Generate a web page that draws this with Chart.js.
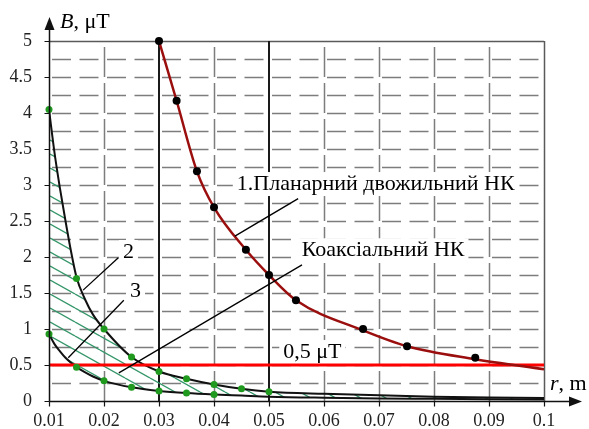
<!DOCTYPE html>
<html>
<head>
<meta charset="utf-8">
<script src="https://cdn.jsdelivr.net/npm/chart.js@4"></script>
<style>
  html, body { margin: 0; padding: 0; background: #fff; }
</style>
</head>
<body>
<canvas id="chart" width="589" height="429"></canvas>
<script>
// Tick labels
const xTickLabels = ['0.01', '0.02', '0.03', '0.04', '0.05', '0.06', '0.07', '0.08', '0.09', '0.1'];
const yTickLabels = ['0', '0.5', '1', '1.5', '2', '2.5', '3', '3.5', '4', '4.5', '5'];

// 1. Planar two-wire line: measured points and fitted curve
const planarR = [0.03, 0.0332, 0.0369, 0.04, 0.0458, 0.05, 0.0549, 0.0671, 0.0751, 0.0875];
const planarB = [5, 4.17, 3.19, 2.69, 2.1, 1.75, 1.4, 1.0, 0.76, 0.6];
const planarLineR = [0.03, 0.0332, 0.0369, 0.04, 0.0458, 0.05, 0.0549, 0.0671, 0.0751, 0.0875, 0.1];
const planarLineB = [5, 4.17, 3.19, 2.69, 2.1, 1.75, 1.4, 0.98, 0.76, 0.58, 0.44];

// Coaxial line: curve 2 (upper) and curve 3 (lower)
const coaxUpperR = [0.01, 0.015, 0.02, 0.025, 0.03, 0.035, 0.04, 0.045, 0.05];
const coaxUpperB = [4.05, 1.7, 1.0, 0.61, 0.41, 0.31, 0.23, 0.17, 0.13];
const coaxLowerR = [0.01, 0.015, 0.02, 0.025, 0.03, 0.035, 0.04];
const coaxLowerB = [0.93, 0.47, 0.28, 0.19, 0.14, 0.11, 0.09];

const curveR = [0.01, 0.011, 0.012, 0.013, 0.014, 0.015, 0.0165, 0.018, 0.02, 0.025, 0.03, 0.035, 0.04, 0.045, 0.05, 0.06, 0.07, 0.08, 0.09, 0.1];
const upperB = [4.05, 3.45, 2.95, 2.5, 2.08, 1.72, 1.42, 1.2, 1.0, 0.61, 0.41, 0.31, 0.23, 0.17, 0.13, 0.1, 0.08, 0.06, 0.05, 0.04];
const lowerB = [0.93, 0.79, 0.69, 0.6, 0.53, 0.47, 0.4, 0.34, 0.28, 0.19, 0.14, 0.11, 0.09, 0.075, 0.06, 0.045, 0.035, 0.03, 0.025, 0.02];

// Limit line
const limitR = [0.01, 0.1];
const limitB = [0.5, 0.5];

// Solid vertical markers
const markR = [0.03, 0.05];

const SERIF = '"Liberation Serif", "Times New Roman", serif';

// annotations (x, baseline y in data units)
const notes = [
  { text: '1.Планарний двожильний НК', x: 0.04415, y: 2.93 },
  { text: 'Коаксіальний НК', x: 0.05595, y: 2.01 },
  { text: '0,5 μT', x: 0.0526, y: 0.597 },
  { text: '2', x: 0.02345, y: 1.986 },
  { text: '3', x: 0.02473, y: 1.444 }
];
const leaders = [
  [0.0438, 2.29, 0.0553, 2.81],
  [0.0227, 0.39, 0.0560, 1.89],
  [0.0162, 1.54, 0.0226, 1.99],
  [0.0135, 0.60, 0.0236, 1.40]
];

const pts = (xs, ys) => xs.map((v, i) => ({ x: v, y: ys[i] }));

function makeHatch() {
  const c = document.createElement('canvas');
  c.width = 25; c.height = 14;
  const g = c.getContext('2d');
  g.strokeStyle = 'rgb(52,150,105)';
  g.lineWidth = 1.3;
  [-1, 0, 1].forEach(k => {
    g.beginPath();
    g.moveTo(0, k * 14);
    g.lineTo(25, k * 14 + 14);
    g.stroke();
  });
  return g.createPattern(c, 'repeat');
}

const near = (a, b) => Math.abs(a - b) < 1e-6;

const decor = {
  id: 'decor',
  beforeDatasetsDraw(chart) {
    const { ctx, chartArea: a, scales: { x, y } } = chart;
    ctx.save();
    ctx.lineWidth = 1.5;
    ctx.strokeStyle = '#7d7d7d';

    // horizontal dashed grid
    ctx.setLineDash([19, 8.5]);
    ctx.lineDashOffset = 24.5;
    for (let v = 0.25; v < 4.9; v += 0.25) {
      const py = Math.round(y.getPixelForValue(v)) + 0.5;
      ctx.beginPath(); ctx.moveTo(a.left, py); ctx.lineTo(a.right, py); ctx.stroke();
    }

    // vertical dashed grid
    ctx.setLineDash([30, 6]);
    ctx.lineDashOffset = 0;
    x.ticks.forEach((t, i) => {
      if (i === 0 || i === x.ticks.length - 1 || markR.some(m => near(m, t.value))) return;
      const px = Math.round(x.getPixelForValue(t.value)) + 0.5;
      ctx.beginPath(); ctx.moveTo(px, a.bottom); ctx.lineTo(px, a.top); ctx.stroke();
    });

    // top and right border
    ctx.setLineDash([]);
    ctx.strokeStyle = '#5a5a5a';
    ctx.beginPath();
    ctx.moveTo(a.left, a.top + 0.5); ctx.lineTo(a.right, a.top + 0.5);
    ctx.moveTo(a.right + 0.5, a.top); ctx.lineTo(a.right + 0.5, a.bottom);
    ctx.stroke();

    // solid black verticals
    ctx.strokeStyle = '#1a1a1a';
    ctx.lineWidth = 2;
    markR.forEach(m => {
      const px = Math.round(x.getPixelForValue(m));
      ctx.beginPath(); ctx.moveTo(px, a.bottom); ctx.lineTo(px, a.top); ctx.stroke();
    });

    // text labels on white boxes
    ctx.font = '22px ' + SERIF;
    ctx.textAlign = 'left';
    ctx.textBaseline = 'alphabetic';
    notes.forEach(n => {
      const px = x.getPixelForValue(n.x);
      const py = y.getPixelForValue(n.y);
      const w = ctx.measureText(n.text).width;
      ctx.fillStyle = '#fff';
      ctx.fillRect(px - 4, py - 18, w + 8, 24);
      ctx.fillStyle = '#000';
      ctx.fillText(n.text, px, py);
    });
    ctx.restore();
  },
  afterDatasetsDraw(chart) {
    const { ctx, chartArea: a, scales: { x, y } } = chart;
    ctx.save();

    // leader lines
    ctx.strokeStyle = '#000';
    ctx.lineWidth = 1.3;
    leaders.forEach(l => {
      ctx.beginPath();
      ctx.moveTo(x.getPixelForValue(l[0]), y.getPixelForValue(l[1]));
      ctx.lineTo(x.getPixelForValue(l[2]), y.getPixelForValue(l[3]));
      ctx.stroke();
    });

    // axes with arrows
    const ox = a.left + 0.5, oy = a.bottom + 0.5;
    ctx.lineWidth = 1.5;
    ctx.strokeStyle = '#111';
    ctx.fillStyle = '#111';
    ctx.beginPath();
    ctx.moveTo(ox, oy); ctx.lineTo(ox, a.top - 14);
    ctx.moveTo(ox, oy); ctx.lineTo(a.right + 28, oy);
    ctx.stroke();
    ctx.beginPath();
    ctx.moveTo(ox, a.top - 24); ctx.lineTo(ox - 5, a.top - 11); ctx.lineTo(ox + 5, a.top - 11); ctx.closePath();
    ctx.fill();
    ctx.beginPath();
    ctx.moveTo(a.right + 38, oy); ctx.lineTo(a.right + 25, oy - 5); ctx.lineTo(a.right + 25, oy + 5); ctx.closePath();
    ctx.fill();

    // tick marks
    ctx.lineWidth = 1.2;
    ctx.beginPath();
    x.ticks.forEach(t => {
      const px = Math.round(x.getPixelForValue(t.value)) + 0.5;
      ctx.moveTo(px, oy); ctx.lineTo(px, oy + 5);
    });
    y.ticks.forEach(t => {
      const py = Math.round(y.getPixelForValue(t.value)) + 0.5;
      ctx.moveTo(ox - 5, py); ctx.lineTo(ox, py);
    });
    ctx.stroke();

    // axis titles
    ctx.fillStyle = '#000';
    ctx.textBaseline = 'alphabetic';
    ctx.textAlign = 'left';
    ctx.font = 'italic 22px ' + SERIF;
    let tx = a.left + 11;
    ctx.fillText('B', tx, a.top - 13);
    tx += ctx.measureText('B').width;
    ctx.font = '22px ' + SERIF;
    ctx.fillText(', μT', tx, a.top - 13);

    ctx.font = 'italic 22px ' + SERIF;
    tx = a.right + 6;
    ctx.fillText('r', tx, a.bottom - 11);
    tx += ctx.measureText('r').width;
    ctx.font = '22px ' + SERIF;
    ctx.fillText(', m', tx, a.bottom - 11);
    ctx.restore();
  }
};

const hatch = makeHatch();

new Chart(document.getElementById('chart'), {
  type: 'line',
  data: {
    datasets: [
      {
        label: 'planar points', data: pts(planarR, planarB), showLine: false,
        pointRadius: 4, pointBackgroundColor: '#000', pointBorderWidth: 0, clip: false, order: 0
      },
      {
        label: 'coax upper points', data: pts(coaxUpperR, coaxUpperB), showLine: false,
        pointRadius: 3.5, pointBackgroundColor: '#1f9a1f', pointBorderWidth: 0, clip: false, order: 0
      },
      {
        label: 'coax lower points', data: pts(coaxLowerR, coaxLowerB), showLine: false,
        pointRadius: 3.5, pointBackgroundColor: '#1f9a1f', pointBorderWidth: 0, clip: false, order: 0
      },
      {
        label: 'planar', data: pts(planarLineR, planarLineB), borderColor: '#9b0e0e', borderWidth: 2.5,
        pointRadius: 0, cubicInterpolationMode: 'monotone', fill: false, order: 1
      },
      {
        label: '0.5 μT', data: pts(limitR, limitB), borderColor: '#ff0000', borderWidth: 3,
        pointRadius: 0, fill: false, order: 2
      },
      {
        label: 'curve 2', data: pts(curveR, upperB), borderColor: '#111', borderWidth: 2,
        pointRadius: 0, cubicInterpolationMode: 'monotone', fill: '+1', backgroundColor: hatch, order: 4
      },
      {
        label: 'curve 3', data: pts(curveR, lowerB), borderColor: '#111', borderWidth: 2,
        pointRadius: 0, cubicInterpolationMode: 'monotone', fill: false, order: 3
      }
    ]
  },
  options: {
    responsive: false,
    animation: false,
    devicePixelRatio: 1,
    layout: { padding: { top: 41, right: 45, left: 0, bottom: 0 } },
    plugins: {
      legend: { display: false },
      tooltip: { enabled: false }
    },
    scales: {
      x: {
        type: 'linear', min: 0.01, max: 0.1,
        grid: { display: false },
        border: { display: false },
        ticks: {
          stepSize: 0.01, autoSkip: false, maxRotation: 0, padding: 1,
          color: '#222', font: { family: SERIF, size: 18 },
          callback: (v, i) => xTickLabels[i]
        },
        afterFit: s => { s.height = 28; }
      },
      y: {
        type: 'linear', min: 0, max: 5,
        grid: { display: false },
        border: { display: false },
        ticks: {
          stepSize: 0.5, autoSkip: false, padding: 9,
          color: '#222', font: { family: SERIF, size: 18 },
          callback: (v, i) => yTickLabels[i]
        },
        afterFit: s => { s.width = 49; }
      }
    }
  },
  plugins: [decor]
});
</script>
</body>
</html>
